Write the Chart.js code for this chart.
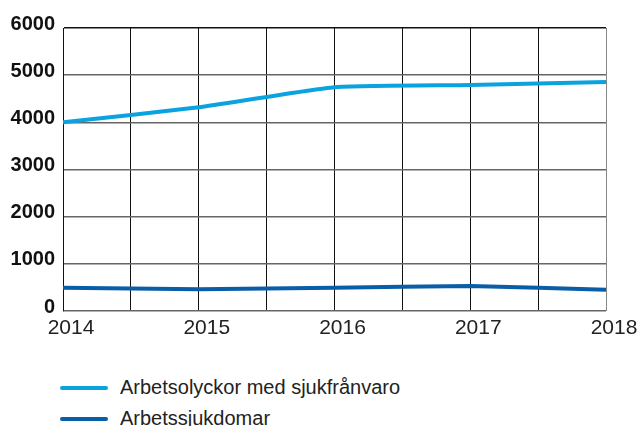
<!DOCTYPE html>
<html>
<head>
<meta charset="utf-8">
<script src="https://cdn.jsdelivr.net/npm/chart.js@4"></script>
<style>
  html, body { margin: 0; padding: 0; background: #fff; }
  #wrap { position: relative; width: 642px; height: 426px; }
  #c { position: absolute; left: 0; top: 0; }
  #legend { position: absolute; left: 60px; top: 372px; font-family: "Liberation Sans", Arial, sans-serif; font-size: 20px; color: #222; }
  .item { display: flex; align-items: center; height: 31px; }
  .swatch { width: 48px; height: 4px; border-radius: 2px; margin-right: 12px; }
</style>
</head>
<body>
<div id="wrap">
  <canvas id="c" width="642" height="345"></canvas>
  <div id="legend"></div>
</div>
<script>
const years = [2014, 2015, 2016, 2017, 2018];
const seriesNames = ["Arbetsolyckor med sjukfrånvaro", "Arbetssjukdomar"];
const accidents = [4000, 4320, 4745, 4790, 4855];
const diseases = [494, 460, 494, 530, 452];
const yTicks = [0, 1000, 2000, 3000, 4000, 5000, 6000];
const colors = ["#0ba3df", "#0a5ea8"];

const toPts = arr => arr.map((v, i) => ({x: years[i], y: v}));

const chart = new Chart(document.getElementById('c'), {
  type: 'line',
  data: {
    datasets: [
      { label: seriesNames[0], data: toPts(accidents), borderColor: colors[0], backgroundColor: colors[0], borderWidth: 4, pointRadius: 0, tension: 0.15 },
      { label: seriesNames[1], data: toPts(diseases), borderColor: colors[1], backgroundColor: colors[1], borderWidth: 4, pointRadius: 0, tension: 0.15 }
    ]
  },
  options: {
    responsive: false,
    animation: false,
    layout: { padding: { left: 0, right: 36, top: 28, bottom: 0 } },
    plugins: { legend: { display: false }, tooltip: { enabled: false } },
    scales: {
      x: {
        type: 'linear',
        min: years[0], max: years[years.length - 1],
        afterBuildTicks: s => { const t = []; for (let v = years[0]; v <= years[years.length-1] + 1e-9; v += 0.5) t.push({value: v}); s.ticks = t; },
        afterFit: s => { s.height = 34; },
        border: { display: false },
        grid: {
          drawTicks: false,
          lineWidth: 1,
          color: ctx => (ctx.index === 8 ? '#888' : '#111')
        },
        ticks: {
          autoSkip: false, maxRotation: 0, padding: 5, labelOffset: 8,
          color: '#222',
          font: { family: '"Liberation Sans", Arial, sans-serif', size: 21 },
          callback: v => (Number.isInteger(v) ? String(v) : '')
        }
      },
      y: {
        min: yTicks[0], max: yTicks[yTicks.length - 1],
        afterBuildTicks: s => { s.ticks = yTicks.map(v => ({value: v})); },
        afterFit: s => { s.width = 63; },
        border: { display: true, color: '#111', width: 1 },
        grid: {
          drawTicks: false,
          lineWidth: 1.5,
          color: ctx => (ctx.tick && ctx.tick.value === 6000 ? '#111' : '#666')
        },
        ticks: {
          padding: 8, labelOffset: -4,
          color: '#111',
          font: { family: '"Liberation Sans", Arial, sans-serif', size: 20, weight: 'bold' },
          callback: v => String(v)
        }
      }
    }
  }
});

const legend = document.getElementById('legend');
chart.data.datasets.forEach(ds => {
  const it = document.createElement('div'); it.className = 'item';
  const sw = document.createElement('span'); sw.className = 'swatch'; sw.style.background = ds.borderColor;
  const tx = document.createElement('span'); tx.textContent = ds.label;
  it.appendChild(sw); it.appendChild(tx); legend.appendChild(it);
});
</script>
</body>
</html>
